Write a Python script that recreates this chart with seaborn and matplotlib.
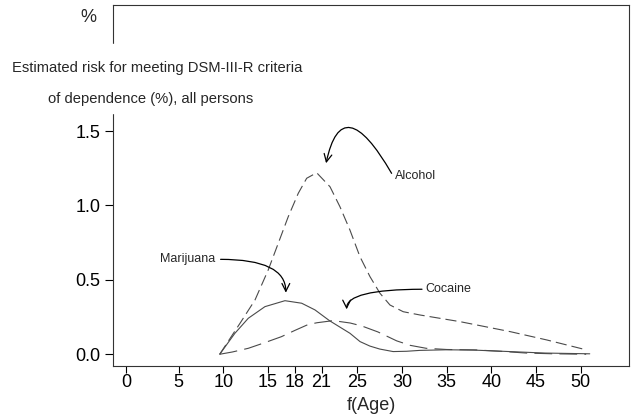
import matplotlib
matplotlib.use("Agg")
import matplotlib.pyplot as plt
import seaborn as sns

# --- data ---
alcohol_age = [9.6, 11.87, 13.55, 15.03, 16.15, 17.27, 18.39, 19.33, 20.45, 21.94, 23.05,
               24.17, 25.29, 26.41, 27.53, 28.65, 30.13, 32.0, 36.5, 42.1, 46.2, 50.65]
alcohol_risk = [0.0, 0.208, 0.365, 0.567, 0.746, 0.925, 1.082, 1.183, 1.22, 1.126, 0.992,
                0.835, 0.656, 0.522, 0.41, 0.331, 0.286, 0.264, 0.219, 0.152, 0.096, 0.029]

marijuana_age = [9.6, 11.3, 12.8, 14.66, 16.9, 18.77, 20.26, 21.9, 24.17, 25.3, 26.4,
                 27.5, 29, 30.5, 32, 35, 38, 42, 46, 51]
marijuana_risk = [0.0, 0.141, 0.242, 0.32, 0.36, 0.343, 0.298, 0.225, 0.141, 0.085, 0.055,
                  0.035, 0.018, 0.02, 0.026, 0.03, 0.028, 0.018, 0.008, 0.003]

cocaine_age = [9.6, 11, 12.8, 14.5, 16.5, 18, 19.5, 20.5, 22.3, 24.2, 25.5, 27.3, 29.4,
               30.9, 32.7, 35, 38.3, 41, 43.9, 47, 50.6]
cocaine_risk = [0.0, 0.015, 0.04, 0.075, 0.118, 0.16, 0.2, 0.212, 0.226, 0.21, 0.19, 0.15,
                0.09, 0.06, 0.04, 0.032, 0.029, 0.02, 0.008, 0.003, 0.0]

tick_pos = [-0.9, 5, 10, 15, 18, 21, 25, 30, 35, 40, 45, 50]
tick_lab = ["0", "5", "10", "15", "18", "21", "25", "30", "35", "40", "45", "50"]
ytick_pos = [0.0, 0.5, 1.0, 1.5]

sns.set_style("ticks")
plt.rcParams["font.family"] = ["Liberation Sans", "DejaVu Sans"]

fig = plt.figure(figsize=(6.33, 4.18), dpi=100)
ax = fig.add_axes([0.1785, 0.1244, 0.815, 0.8648])

line_col = "#4a4a4a"
sns.lineplot(x=alcohol_age, y=alcohol_risk, ax=ax, color=line_col, lw=0.8,
             sort=False).lines[-1].set_dashes((10, 4.5))
sns.lineplot(x=marijuana_age, y=marijuana_risk, ax=ax, color=line_col, lw=0.8, sort=False)
sns.lineplot(x=cocaine_age, y=cocaine_risk, ax=ax, color=line_col, lw=0.8,
             sort=False).lines[-1].set_dashes((16, 6.5))

ax.set_xlim(-2.34, 55.38)
ax.set_ylim(-0.079, 2.351)
ax.set_xticks(tick_pos)
ax.set_xticklabels(tick_lab)
ax.set_yticks(ytick_pos)
ax.set_yticklabels([f"{v:.1f}" for v in ytick_pos])
ax.tick_params(axis="both", direction="out", labelsize=13, colors="black", width=0.8)
ax.tick_params(axis="y", length=6, pad=3)
ax.tick_params(axis="x", length=5, pad=1)
for s in ax.spines.values():
    s.set_visible(True)
    s.set_linewidth(0.8)
    s.set_color("#333333")
ax.set_xlabel("f(Age)", fontsize=13, labelpad=4)
ax.set_ylabel("")

# annotations with curved arrows
arrow = dict(arrowstyle="->", color="black", lw=0.9, shrinkA=0, shrinkB=0,
             mutation_scale=14)
ax.annotate("Alcohol", xy=(21.5, 1.284), xytext=(29.2, 1.2), fontsize=9,
            va="center", ha="left",
            arrowprops=dict(arrow, connectionstyle="angle3,angleA=120,angleB=78",
                            relpos=(-0.08, 0.7)))
ax.annotate("Marijuana", xy=(17.0, 0.414), xytext=(2.9, 0.638), fontsize=9,
            va="center", ha="left",
            arrowprops=dict(arrow, connectionstyle="angle3,angleA=0,angleB=90",
                            relpos=(1.1, 0.5)))
ax.annotate("Cocaine", xy=(23.8, 0.302), xytext=(32.6, 0.437), fontsize=9,
            va="center", ha="left",
            arrowprops=dict(arrow, connectionstyle="angle3,angleA=0,angleB=90",
                            relpos=(-0.05, 0.5)))

# y-axis caption sits over the left spine
fig.add_artist(plt.Rectangle((100 / 633, 1 - 113 / 418), 25 / 633, 69 / 418,
                             transform=fig.transFigure, color="white", zorder=5))
fig.text(88 / 633, 1 - 18 / 418, "%", fontsize=13, ha="center", va="center", zorder=6)
fig.text(157 / 633, 1 - 68 / 418, "Estimated risk for meeting DSM-III-R criteria",
         fontsize=10.6, ha="center", va="center", zorder=6)
fig.text(151 / 633, 1 - 99 / 418, "of dependence (%), all persons",
         fontsize=10.6, ha="center", va="center", zorder=6)

fig.savefig("out.png", dpi=100)
